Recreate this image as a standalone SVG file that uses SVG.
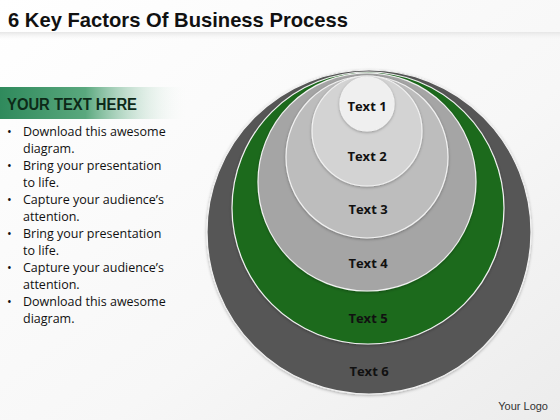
<svg xmlns="http://www.w3.org/2000/svg" width="560" height="420" viewBox="0 0 560 420">
<defs>
<linearGradient id="bg" x1="0" y1="0" x2="1" y2="1">
<stop offset="0" stop-color="#ffffff"/>
<stop offset="0.6" stop-color="#f7f7f7"/>
<stop offset="1" stop-color="#ececec"/>
</linearGradient>
<linearGradient id="hdr" x1="0" y1="0" x2="1" y2="0">
<stop offset="0" stop-color="#2f8a5c"/>
<stop offset="0.45" stop-color="#5aa87e"/>
<stop offset="1" stop-color="#ffffff" stop-opacity="0"/>
</linearGradient>
<linearGradient id="band" x1="0" y1="0" x2="0" y2="1">
<stop offset="0" stop-color="#e6e6e6"/>
<stop offset="1" stop-color="#f8f8f8" stop-opacity="0"/>
</linearGradient>
<filter id="sh" x="-20%" y="-20%" width="140%" height="140%">
<feDropShadow dx="0" dy="1" stdDeviation="1.5" flood-color="#000" flood-opacity="0.3"/>
</filter>
<style>
.t{font-family:"Liberation Sans",Arial,sans-serif;}
.lbl{font-family:"Open Sans","Liberation Sans",sans-serif;font-weight:bold;font-size:13px;fill:#111;text-anchor:middle;}
.b{font-family:"Open Sans","Liberation Sans",sans-serif;font-size:12.5px;fill:#111;}
.ring{stroke:#f2f2f2;stroke-width:1.2;filter:url(#sh);}
</style>
</defs>
<rect width="560" height="420" fill="url(#bg)"/>
<rect x="0" y="32" width="560" height="8" fill="url(#band)"/>
<text class="t" x="8" y="27" font-size="21" font-weight="bold" fill="#111" textLength="340" lengthAdjust="spacingAndGlyphs">6 Key Factors Of Business Process</text>

<g id="panel">
<rect x="0" y="87" width="190" height="32" fill="url(#hdr)"/>
<text class="t" x="7" y="110" font-size="16" font-weight="bold" fill="#0d2a18" textLength="130" lengthAdjust="spacingAndGlyphs">YOUR TEXT HERE</text>
<g class="b">
<text x="7" y="136">•</text><text x="23" y="136">Download this awesome</text>
<text x="23" y="153">diagram.</text>
<text x="7" y="170">•</text><text x="23" y="170">Bring your presentation</text>
<text x="23" y="187">to life.</text>
<text x="7" y="204">•</text><text x="23" y="204">Capture your audience’s</text>
<text x="23" y="221">attention.</text>
<text x="7" y="238">•</text><text x="23" y="238">Bring your presentation</text>
<text x="23" y="255">to life.</text>
<text x="7" y="272">•</text><text x="23" y="272">Capture your audience’s</text>
<text x="23" y="289">attention.</text>
<text x="7" y="306">•</text><text x="23" y="306">Download this awesome</text>
<text x="23" y="323">diagram.</text>
</g>
</g>

<g id="node6"><circle class="ring" cx="369" cy="232" r="162" fill="#575757"/><text class="lbl" x="369" y="376">Text 6</text></g>
<g id="node5"><circle class="ring" cx="368" cy="208" r="136" fill="#1b6a1d" stroke="#cfe8c8"/><text class="lbl" x="368" y="323" fill="#0d2a0d">Text 5</text></g>
<g id="node4"><circle class="ring" cx="367" cy="182" r="109" fill="#a5a5a5"/><text class="lbl" x="368" y="268">Text 4</text></g>
<g id="node3"><circle class="ring" cx="367" cy="157" r="81" fill="#bdbdbd"/><text class="lbl" x="368" y="214">Text 3</text></g>
<g id="node2"><circle class="ring" cx="367" cy="131" r="55" fill="#d3d3d3"/><text class="lbl" x="367" y="161">Text 2</text></g>
<g id="node1"><circle class="ring" cx="367" cy="104" r="27" fill="#efefef"/><text class="lbl" x="367" y="111" font-size="12">Text 1</text></g>

<g id="connectors"/>
<text class="t" x="548" y="410" font-size="11" fill="#333" text-anchor="end">Your Logo</text>
</svg>
